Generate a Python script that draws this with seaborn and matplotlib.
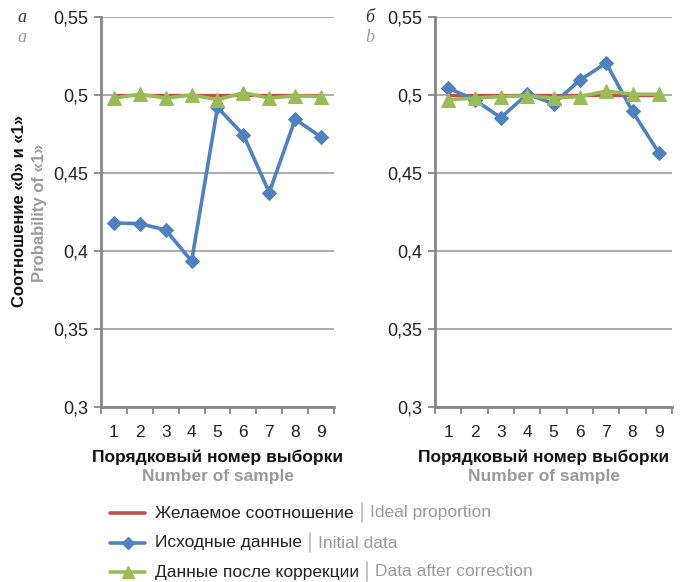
import matplotlib
matplotlib.use("Agg")
import matplotlib.pyplot as plt
from matplotlib.lines import Line2D
import numpy as np
import pandas as pd
import seaborn as sns

# Sample numbers
samples = [1, 2, 3, 4, 5, 6, 7, 8, 9]

# Panel а
ideal_a = [0.5, 0.5, 0.5, 0.5, 0.5, 0.5, 0.5, 0.5, 0.5]
initial_a = [0.418, 0.4175, 0.4135, 0.3935, 0.492, 0.4745, 0.4375, 0.4845, 0.473]
corrected_a = [0.498, 0.5005, 0.498, 0.5, 0.497, 0.5015, 0.498, 0.4995, 0.499]

# Panel б
ideal_b = [0.5, 0.5, 0.5, 0.5, 0.5, 0.5, 0.5, 0.5, 0.5]
initial_b = [0.5045, 0.497, 0.4855, 0.5005, 0.4945, 0.5095, 0.5205, 0.4895, 0.463]
corrected_b = [0.497, 0.498, 0.499, 0.4995, 0.498, 0.499, 0.5025, 0.5005, 0.5005]

y_ticks = [0.3, 0.35, 0.4, 0.45, 0.5, 0.55]
y_tick_labels = ["0,3", "0,35", "0,4", "0,45", "0,5", "0,55"]

series_ru = ["Желаемое соотношение", "Исходные данные", "Данные после коррекции"]
series_en = ["Ideal proportion", "Initial data", "Data after correction"]

RED = "#C0504D"
BLUE = "#4F81BD"
GREEN = "#9BBB59"
GRID = "#A6A6A6"
SPINE = "#868686"
GRAYTXT = "#9A9A9A"
DARK = "#222222"

sns.set_theme(style="white", rc={"ytick.left": True, "xtick.bottom": True})
plt.rcParams["font.family"] = ["Liberation Sans", "DejaVu Sans"]

W, H = 683, 582
fig = plt.figure(figsize=(W / 100, H / 100), dpi=100)


def fx(px):
    return px / W


def fy(py):
    return 1 - py / H


def draw_panel(ax, ideal, initial, corrected):
    df = pd.DataFrame({"x": samples, "ideal": ideal, "initial": initial, "corrected": corrected})
    sns.lineplot(data=df, x="x", y="ideal", ax=ax, color=RED, lw=2.4, zorder=3)
    sns.lineplot(data=df, x="x", y="initial", ax=ax, color=BLUE, lw=2.6,
                 marker="D", markersize=7.5, markeredgecolor=BLUE, zorder=4)
    sns.lineplot(data=df, x="x", y="corrected", ax=ax, color=GREEN, lw=2.6,
                 marker="^", markersize=10, markeredgecolor=GREEN, zorder=5)
    ax.set_xlim(0.5, 9.5)
    ax.set_ylim(0.3, 0.55)
    ax.set_yticks(y_ticks)
    ax.set_yticklabels(y_tick_labels, fontsize=13, color=DARK)
    ax.set_xticks(samples)
    ax.set_xticklabels([str(s) for s in samples], fontsize=12.5, color=DARK)
    ax.set_xticks(np.arange(0.5, 10, 1), minor=True)
    ax.tick_params(axis="x", which="major", length=0, pad=13)
    ax.tick_params(axis="x", which="minor", length=5, width=1.3, color=SPINE, direction="out")
    ax.tick_params(axis="y", which="major", length=5, width=1.3, color=SPINE,
                   direction="out", pad=4, left=True)
    ax.yaxis.grid(True, color=GRID, lw=1.3)
    ax.set_axisbelow(True)
    for s in ["top", "right"]:
        ax.spines[s].set_visible(False)
    for s in ["left", "bottom"]:
        ax.spines[s].set_color(SPINE)
        ax.spines[s].set_linewidth(2)
    ax.set_xlabel("")
    ax.set_ylabel("")


ax1 = fig.add_axes([fx(101), fy(407), fx(334 - 101), (407 - 17) / H])
ax2 = fig.add_axes([fx(435), fy(407), fx(672 - 435), (407 - 17) / H])
draw_panel(ax1, ideal_a, initial_a, corrected_a)
draw_panel(ax2, ideal_b, initial_b, corrected_b)

# Panel letters
serif = ["Liberation Serif", "DejaVu Serif"]
for xp, ru, en in [(22, "а", "a"), (370, "б", "b")]:
    fig.text(fx(xp), fy(17), ru, family=serif, style="italic", fontsize=13,
             color="#333333", ha="center", va="center")
    fig.text(fx(xp), fy(38), en, family=serif, style="italic", fontsize=13,
             color=GRAYTXT, ha="center", va="center")

# Axis titles
fig.text(fx(20), fy(211), "Соотношение «0» и «1»", rotation=90, fontsize=12,
         fontweight="bold", color="#111111", ha="center", va="center")
fig.text(fx(40), fy(213), "Probability of «1»", rotation=90, fontsize=12,
         fontweight="bold", color=GRAYTXT, ha="center", va="center")
for xc in (218, 544):
    fig.text(fx(xc), fy(457), "Порядковый номер выборки", fontsize=12.5,
             fontweight="bold", color="#111111", ha="center", va="center")
    fig.text(fx(xc), fy(477), "Number of sample", fontsize=12.5,
             fontweight="bold", color=GRAYTXT, ha="center", va="center")

# Legend below the panels
legend_y = [513, 543, 572]
styles = [(RED, None, 0), (BLUE, "D", 6), (GREEN, "^", 8)]
renderer = fig.canvas.get_renderer()
for yp, (col, mk, ms), ru, en in zip(legend_y, styles, series_ru, series_en):
    fig.add_artist(Line2D([fx(110), fx(145)], [fy(yp), fy(yp)], color=col, lw=2.6,
                          transform=fig.transFigure))
    if mk:
        fig.add_artist(Line2D([fx(127.5)], [fy(yp)], color=col, marker=mk, markersize=ms,
                              transform=fig.transFigure))
    t = fig.text(fx(155), fy(yp), ru, fontsize=12.5, color=DARK, ha="left", va="center")
    bb = t.get_window_extent(renderer=renderer)
    x_end = bb.x1 * W / fig.bbox.width
    fig.add_artist(Line2D([fx(x_end + 8), fx(x_end + 8)], [fy(yp - 10), fy(yp + 9)],
                          color="#BBBBBB", lw=1.2, transform=fig.transFigure))
    fig.text(fx(x_end + 16), fy(yp), en, fontsize=12.5, color=GRAYTXT,
             ha="left", va="center")

fig.savefig("out.png", dpi=100)
